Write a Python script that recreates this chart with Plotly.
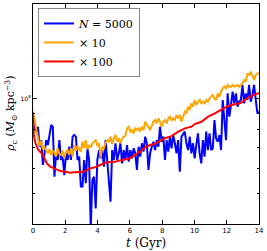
import numpy as np
import plotly.graph_objects as go

# ---- data (rho in units of 1e7 Msun/kpc^3) ----
rho_blue = [8.35, 8.05, 7.86, 8.15, 7.04, 7.39, 6.16, 6.71, 7.39, 7.13, 7.58, 8.25, 8.15, 5.65, 6.71, 6.39,
            7.39, 6.39, 6.55, 5.72, 6.71, 6.39, 7.04, 6.39, 7.58, 7.67, 7.58, 6.39, 6.55, 5.26, 5.26, 6.39,
            5.39, 6.96, 6.39, 3.90, 5.52, 5.65, 4.48, 6.39, 6.87, 6.47, 6.87, 6.08, 7.39, 6.39, 5.65, 4.71,
            6.87, 6.39, 7.22, 6.39, 6.71, 7.22, 6.23, 6.87, 6.39, 7.13, 6.31, 6.87, 6.47, 6.96, 6.71, 5.94,
            7.04, 6.55, 7.22, 6.79,
            7.58, 7.22, 5.94, 6.71, 7.04, 7.30, 6.87, 7.39, 7.04, 8.15, 7.30, 7.58, 6.39, 7.39, 6.79, 7.58,
            6.96, 7.67, 7.22, 6.71, 7.39, 5.86, 7.58, 7.76, 7.86, 7.22, 6.87, 7.58, 6.71, 7.22, 6.47, 7.13,
            7.76, 6.71, 6.23, 7.39, 6.55, 7.86, 6.87, 7.76, 6.87, 6.96, 8.56, 7.48, 7.30, 7.67, 6.87, 9.91,
            8.46, 7.39, 10.40, 8.77, 9.55, 10.53, 9.67, 10.40, 9.44, 9.79, 9.91, 11.06, 9.67, 10.40, 9.91,
            11.06, 9.79, 10.28, 11.06, 9.91, 8.99, 9.10]

rho_orange = [8.99, 8.46, 7.86, 7.39, 7.08, 7.36, 6.91, 7.01, 6.87, 6.71, 6.91, 6.63, 6.84, 6.74, 6.55,
              6.96, 6.67, 6.63, 6.84, 6.47, 6.79, 6.87, 6.63, 6.96, 6.55, 7.13, 6.84, 7.08, 6.91, 6.79,
              7.30, 6.96, 7.39, 6.91, 7.13, 7.01, 7.22, 7.30, 7.39, 7.08, 7.22, 6.51, 7.01, 6.96, 7.25,
              7.39, 7.30, 7.58, 7.18, 7.48, 7.67, 7.30, 7.48, 7.22, 7.48, 7.58, 7.61, 8.05, 8.15, 7.86,
              7.96, 7.76, 8.05, 7.96, 8.05, 7.86, 8.15, 7.96,
              8.46, 8.25, 8.15, 7.96, 8.25, 8.46, 8.56, 8.35, 8.66, 8.46, 8.15, 8.46, 8.56, 8.35, 8.66,
              8.77, 8.56, 8.66, 8.56, 8.88, 8.66, 8.88, 8.46, 8.77, 9.10, 8.99, 9.44, 9.21, 9.67, 9.44,
              9.91, 9.55, 9.79, 9.91, 9.67, 9.79, 9.67, 9.91, 9.79, 10.03, 10.15, 10.28, 10.03, 9.91,
              10.40, 10.15, 10.53, 10.79, 10.92, 10.79, 11.06, 10.92, 10.92, 11.06, 10.92, 10.97, 11.06,
              10.92, 11.06, 11.19, 11.47, 11.33, 12.04, 11.90, 12.19, 11.75, 11.47, 11.90, 12.04, 12.10]

t_red = [0.0, 0.05, 0.15, 0.3, 0.45, 0.55, 0.7, 0.86, 1.07, 1.38, 1.69, 2.0, 2.3, 2.72, 2.92, 3.23, 3.54,
         3.85, 4.16, 4.47, 4.77, 5.08, 5.39, 5.7, 6.01, 6.32, 6.63, 6.94, 7.25, 7.55, 7.76, 8.17, 8.58,
         9.0, 9.41, 9.82, 10.02, 10.43, 10.85, 11.26, 11.67, 12.08, 12.5, 12.9, 13.1, 13.5, 13.94, 14.0]
rho_red = [9.10, 7.67, 7.23, 6.92, 6.77, 6.70, 6.48, 6.23, 6.08, 5.97, 5.89, 5.86, 5.82, 5.85, 5.84, 5.89,
           6.01, 6.06, 6.16, 6.26, 6.30, 6.31, 6.37, 6.42, 6.47, 6.63, 6.79, 7.01, 7.13, 7.18, 7.30, 7.49,
           7.61, 7.86, 8.05, 8.15, 8.31, 8.45, 8.77, 8.99, 9.26, 9.48, 9.60, 9.71, 9.91, 10.20, 10.40, 10.42]

t_blue = np.linspace(0, 14, len(rho_blue))
t_orange = np.linspace(0, 14, len(rho_orange))
unit = 1e7

labels = ["<i>N</i> = 5000", "× 10", "× 100"]
colors = ["#0000ff", "#ffa500", "#ff0000"]

x_ticks = [0, 2, 4, 6, 8, 10, 12, 14]
y_major = [1e8]
y_minor = [5e7, 6e7, 7e7, 8e7, 9e7]

fig = go.Figure()
series = [(t_blue, rho_blue), (t_orange, rho_orange), (t_red, rho_red)]
for (tt, rr), lab, col in zip(series, labels, colors):
    fig.add_trace(go.Scatter(x=tt, y=np.array(rr) * unit, mode="lines", name=lab,
                             line=dict(color=col, width=2)))

fig.update_layout(
    width=267, height=251,
    margin=dict(l=33, r=8, t=4, b=27),
    paper_bgcolor="white", plot_bgcolor="white",
    font=dict(family="DejaVu Serif", color="black"),
    showlegend=True,
    legend=dict(x=0.022, y=0.982, xanchor="left", yanchor="top",
                bgcolor="white", bordercolor="#888888", borderwidth=1,
                font=dict(family="DejaVu Serif", size=11), itemwidth=30,
                tracegroupgap=0),
)
fig.update_xaxes(range=[0, 14], tickvals=x_ticks, ticktext=[str(v) for v in x_ticks],
                 showline=True, linecolor="black", linewidth=1, mirror="allticks",
                 ticks="inside", ticklen=4, tickcolor="black", showgrid=False, zeroline=False,
                 tickfont=dict(family="DejaVu Sans", size=7))
fig.update_yaxes(type="log", range=[np.log10(4e7), np.log10(2e8)],
                 tickvals=y_major, ticktext=["10<sup>8</sup>"],
                 showline=True, linecolor="black", linewidth=1, mirror="allticks",
                 ticks="inside", ticklen=4, tickcolor="black", showgrid=False, zeroline=False,
                 tickfont=dict(family="DejaVu Sans", size=6),
                 minor=dict(tickvals=y_minor, ticks="inside", ticklen=2, tickcolor="black", showgrid=False))

fig.add_annotation(text="<i>t</i> (Gyr)", xref="paper", yref="paper", x=0.5, y=-0.088,
                   xanchor="center", yanchor="middle", showarrow=False,
                   font=dict(family="DejaVu Serif", size=12))
fig.add_annotation(text="<i>ρ</i><sub>c</sub> (<i>M</i><sub>⊙</sub> kpc<sup>−3</sup>)",
                   xref="paper", yref="paper", x=-0.098, y=0.50, textangle=-90,
                   xanchor="center", yanchor="middle", showarrow=False,
                   font=dict(family="DejaVu Serif", size=11))

fig.write_html("out.html", config={"displayModeBar": False},
               post_script="document.body.style.margin='0';document.body.style.padding='0';")
